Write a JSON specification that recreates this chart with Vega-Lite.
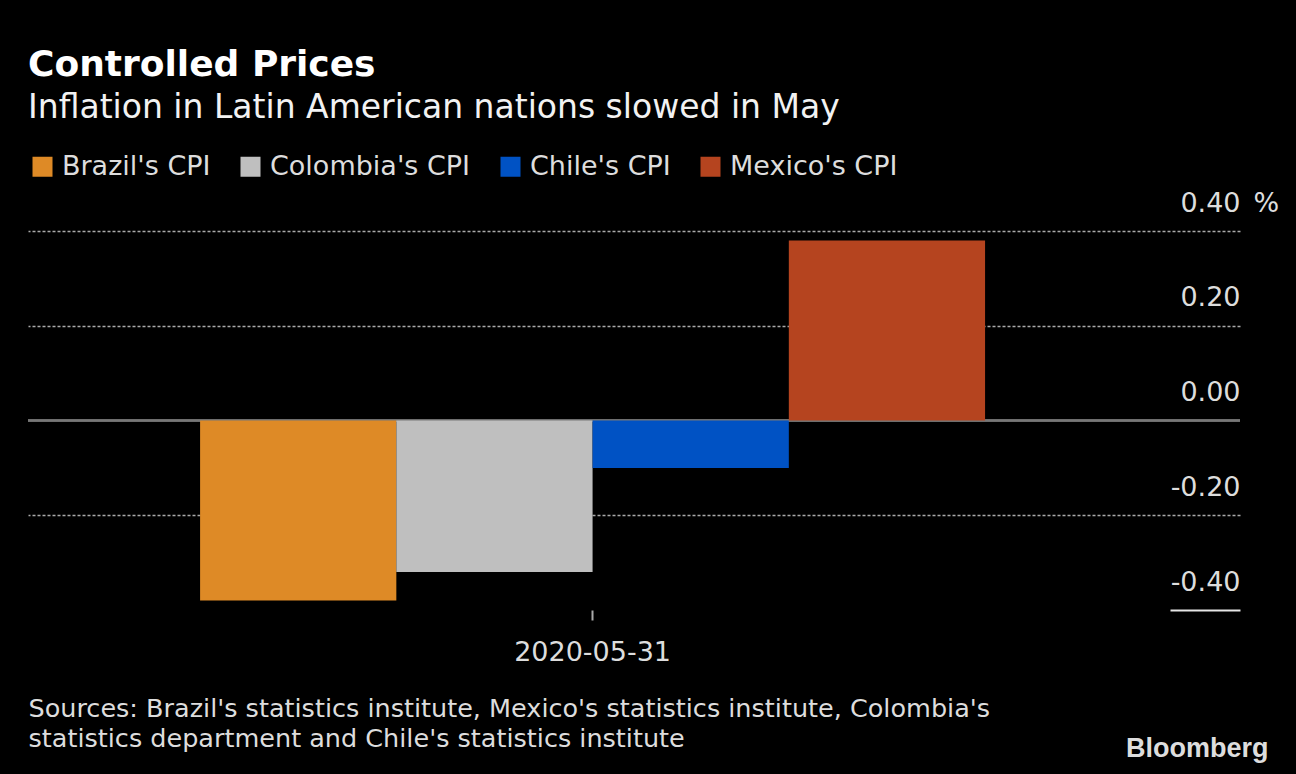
{
  "$schema": "https://vega.github.io/schema/vega-lite/v6.json",
  "width": 1212,
  "height": 379,
  "autosize": {"type": "none"},
  "padding": {"left": 28, "top": 231, "right": 56, "bottom": 164},
  "background": "#000000",
  "title": {
    "text": "Controlled Prices",
    "subtitle": "Inflation in Latin American nations slowed in May",
    "anchor": "start",
    "frame": "group",
    "font": "DejaVu Sans",
    "fontSize": 36,
    "fontWeight": "bold",
    "color": "#ffffff",
    "subtitleFont": "DejaVu Sans",
    "subtitleFontSize": 33,
    "subtitleColor": "#f2f2f2",
    "subtitlePadding": 8,
    "offset": 27
  },
  "data": {
    "values": [
      {"date": "2020-05-31", "country": "Brazil's CPI", "value": -0.38},
      {"date": "2020-05-31", "country": "Colombia's CPI", "value": -0.32},
      {"date": "2020-05-31", "country": "Chile's CPI", "value": -0.10},
      {"date": "2020-05-31", "country": "Mexico's CPI", "value": 0.38}
    ]
  },
  "resolve": {"scale": {"y": "shared"}, "axis": {"y": "independent"}},
  "layer": [
    {
      "mark": {"type": "rule", "color": "#777777", "strokeWidth": 2},
      "encoding": {
        "y": {
          "datum": 0,
          "type": "quantitative",
          "scale": {"domain": [-0.4, 0.4], "nice": false},
          "axis": {
            "orient": "left",
            "domain": false,
            "ticks": false,
            "labels": false,
            "grid": false,
            "title": "Bloomberg",
            "titleAngle": 0,
            "titleX": 1240,
            "titleY": 525,
            "titleAlign": "right",
            "titleBaseline": "alphabetic",
            "titleFont": "Liberation Sans",
            "titleFontSize": 27,
            "titleFontWeight": "bold",
            "titleColor": "#dddddd"
          }
        }
      }
    },
    {
      "mark": {"type": "bar"},
      "encoding": {
        "x": {
          "field": "date",
          "type": "nominal",
          "scale": {"paddingInner": 0, "paddingOuter": 0.272, "align": 0.403},
          "axis": {
            "orient": "bottom",
            "domain": false,
            "ticks": true,
            "tickSize": 10,
            "tickColor": "#aaaaaa",
            "tickWidth": 2,
            "labelAngle": 0,
            "labelFont": "DejaVu Sans",
            "labelFontSize": 27,
            "labelColor": "#dddddd",
            "labelPadding": 19,
            "title": ["Sources: Brazil's statistics institute, Mexico's statistics institute, Colombia's", "statistics department and Chile's statistics institute"],
            "titleX": 0,
            "titleY": 106,
            "titleAlign": "left",
            "titleAnchor": "start",
            "titleBaseline": "alphabetic",
            "titleFont": "DejaVu Sans",
            "titleFontSize": 25.5,
            "titleFontWeight": "normal",
            "titleColor": "#dddddd",
            "titleLineHeight": 30
          }
        },
        "xOffset": {
          "field": "country",
          "type": "nominal",
          "sort": ["Brazil's CPI", "Colombia's CPI", "Chile's CPI", "Mexico's CPI"],
          "scale": {"paddingInner": 0, "paddingOuter": 0}
        },
        "y": {
          "field": "value",
          "type": "quantitative",
          "scale": {"domain": [-0.4, 0.4], "nice": false},
          "axis": {
            "orient": "right",
            "values": [-0.4, -0.2, 0, 0.2, 0.4],
            "labelExpr": "datum.value < 0 ? '-' + format(-datum.value, '.2f') : format(datum.value, '.2f')",
            "domain": false,
            "ticks": true,
            "tickSize": -70,
            "tickWidth": 2,
            "tickColor": {"condition": {"test": "datum.value === -0.4", "value": "#e6e6e6"}, "value": "transparent"},
            "labelAlign": "right",
            "labelBaseline": "middle",
            "labelPadding": 70,
            "labelOffset": -28,
            "labelFont": "DejaVu Sans",
            "labelFontSize": 27,
            "labelColor": "#dddddd",
            "grid": true,
            "gridColor": "#aaaaaa",
            "gridWidth": 1.5,
            "gridDash": [3, 2],
            "gridOpacity": {"condition": {"test": "datum.value === 0 || datum.value === -0.4", "value": 0}, "value": 1},
            "title": "%",
            "titleAngle": 0,
            "titleX": 13,
            "titleY": -28,
            "titleAlign": "left",
            "titleBaseline": "middle",
            "titleFont": "DejaVu Sans",
            "titleFontSize": 27,
            "titleFontWeight": "normal",
            "titleColor": "#dddddd"
          }
        },
        "color": {
          "field": "country",
          "type": "nominal",
          "scale": {
            "domain": ["Brazil's CPI", "Colombia's CPI", "Chile's CPI", "Mexico's CPI"],
            "range": ["#DE8A26", "#BFBFBF", "#0052C4", "#B5441F"]
          },
          "legend": {
            "title": null,
            "orient": "none",
            "legendX": 1,
            "legendY": -78,
            "direction": "horizontal",
            "symbolType": "square",
            "symbolSize": 400,
            "symbolStrokeWidth": 0,
            "symbolOpacity": 1,
            "labelFont": "DejaVu Sans",
            "labelFontSize": 27,
            "labelColor": "#dddddd",
            "labelOffset": 6,
            "labelLimit": 400,
            "columnPadding": 26,
            "padding": 0
          }
        }
      }
    }
  ],
  "config": {
    "view": {"stroke": null}
  }
}
